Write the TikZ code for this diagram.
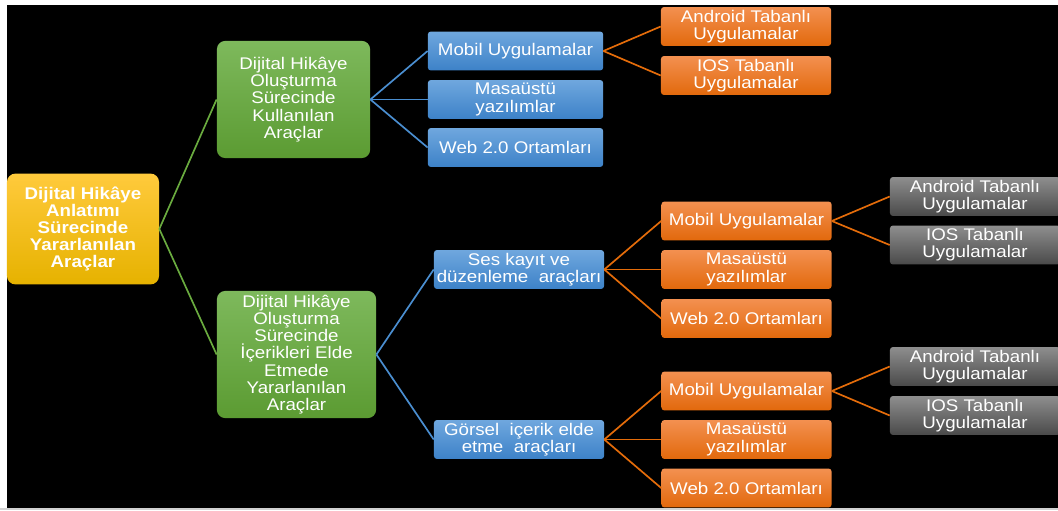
\documentclass[tikz,border=0pt]{standalone}
\usepackage{fontspec}
\setmainfont[FakeStretch=1.11]{Liberation Sans}
\usepackage{tikz}
\usepackage{xcolor}
\definecolor{rootTop}{HTML}{FFCA3C}
\definecolor{rootBot}{HTML}{E6B200}
\definecolor{greenTop}{HTML}{7EB95C}
\definecolor{greenBot}{HTML}{5B9B32}
\definecolor{blueTop}{HTML}{6FA7DE}
\definecolor{blueBot}{HTML}{3D82C8}
\definecolor{orangeTop}{HTML}{F39050}
\definecolor{orangeBot}{HTML}{E2690C}
\definecolor{grayTop}{HTML}{8E8E8E}
\definecolor{grayBot}{HTML}{4A4A4A}
\definecolor{lineGreen}{HTML}{6AAB3F}
\definecolor{lineBlue}{HTML}{4A8ED0}
\definecolor{lineOrange}{HTML}{E46C0A}

\begin{document}
\begin{tikzpicture}[x=0.025cm,y=-0.025cm,
  every node/.style={font=\fontsize{12}{12.2}\selectfont,text=white,align=center,inner sep=0pt},
  box/.style={rounded corners=2pt,minimum height=0.97cm},
  bigbox/.style={rounded corners=6pt},
  rootbox/.style={bigbox,top color=rootTop,bottom color=rootBot,minimum width=3.8cm,minimum height=2.77cm,font=\fontsize{12}{12.2}\selectfont\bfseries},
  greenbox/.style={bigbox,top color=greenTop,bottom color=greenBot},
  bluebox/.style={box,top color=blueTop,bottom color=blueBot,minimum width=4.25cm},
  orangebox/.style={box,top color=orangeTop,bottom color=orangeBot,minimum width=4.25cm},
  graybox/.style={box,top color=grayTop,bottom color=grayBot,minimum width=4.25cm},
  greenline/.style={draw=lineGreen,line width=1.2pt},
  blueline/.style={draw=lineBlue,line width=1.2pt},
  orangeline/.style={draw=lineOrange,line width=1.2pt}]
\useasboundingbox (0,0) rectangle (1058,511);
\fill[white] (0,0) rectangle (1058,511);
\fill[black] (7,5) rectangle (1058,508);
\fill[gray!35] (0,508) rectangle (1058,510);

\node[rootbox] (root) at (83,229) {Dijital Hikâye\\Anlatımı\\Sürecinde\\Yararlanılan\\Araçlar};
\node[greenbox,minimum width=3.83cm,minimum height=2.93cm] (tool1) at (293.5,99.5) {Dijital Hikâye\\Oluşturma\\Sürecinde\\Kullanılan\\Araçlar};
\node[greenbox,minimum width=3.98cm,minimum height=3.18cm] (tool2) at (296.5,354.5) {Dijital Hikâye\\Oluşturma\\Sürecinde\\İçerikleri Elde\\Etmede\\Yararlanılan\\Araçlar};

\node[bluebox,minimum width=4.38cm] (mobA) at (515.5,51) {Mobil Uygulamalar};
\node[bluebox,minimum width=4.38cm] (deskA) at (515.5,99.5) {Masaüstü\\yazılımlar};
\node[bluebox,minimum width=4.38cm] (webA) at (515.5,147.5) {Web 2.0 Ortamları};
\node[orangebox] (andA) at (746,26.5) {Android Tabanlı\\Uygulamalar};
\node[orangebox] (iosA) at (746,75.5) {IOS Tabanlı\\Uygulamalar};

\node[bluebox] (sound) at (519,269.5) {Ses kayıt ve\\düzenleme \ araçları};
\node[bluebox] (visual) at (519,439.5) {Görsel \ içerik elde\\etme \ araçları};

\node[orangebox] (mobB) at (746.5,221) {Mobil Uygulamalar};
\node[orangebox] (deskB) at (746.5,269.5) {Masaüstü\\yazılımlar};
\node[orangebox] (webB) at (746.5,318.5) {Web 2.0 Ortamları};
\node[graybox] (andB) at (975,196.5) {Android Tabanlı\\Uygulamalar};
\node[graybox] (iosB) at (975,245) {IOS Tabanlı\\Uygulamalar};

\node[orangebox] (mobC) at (746.5,391) {Mobil Uygulamalar};
\node[orangebox] (deskC) at (746.5,439.5) {Masaüstü\\yazılımlar};
\node[orangebox] (webC) at (746.5,488) {Web 2.0 Ortamları};
\node[graybox] (andC) at (975,366.5) {Android Tabanlı\\Uygulamalar};
\node[graybox] (iosC) at (975,415.5) {IOS Tabanlı\\Uygulamalar};

\draw[greenline] (root.east) -- (tool1.west);
\draw[greenline] (root.east) -- (tool2.west);
\draw[blueline] (tool1.east) -- (mobA.west);
\draw[blueline] (tool1.east) -- (deskA.west);
\draw[blueline] (tool1.east) -- (webA.west);
\draw[orangeline] (mobA.east) -- (andA.west);
\draw[orangeline] (mobA.east) -- (iosA.west);
\draw[blueline] (tool2.east) -- (sound.west);
\draw[blueline] (tool2.east) -- (visual.west);
\draw[orangeline] (sound.east) -- (mobB.west);
\draw[orangeline] (sound.east) -- (deskB.west);
\draw[orangeline] (sound.east) -- (webB.west);
\draw[orangeline] (mobB.east) -- (andB.west);
\draw[orangeline] (mobB.east) -- (iosB.west);
\draw[orangeline] (visual.east) -- (mobC.west);
\draw[orangeline] (visual.east) -- (deskC.west);
\draw[orangeline] (visual.east) -- (webC.west);
\draw[orangeline] (mobC.east) -- (andC.west);
\draw[orangeline] (mobC.east) -- (iosC.west);
\end{tikzpicture}
\end{document}
